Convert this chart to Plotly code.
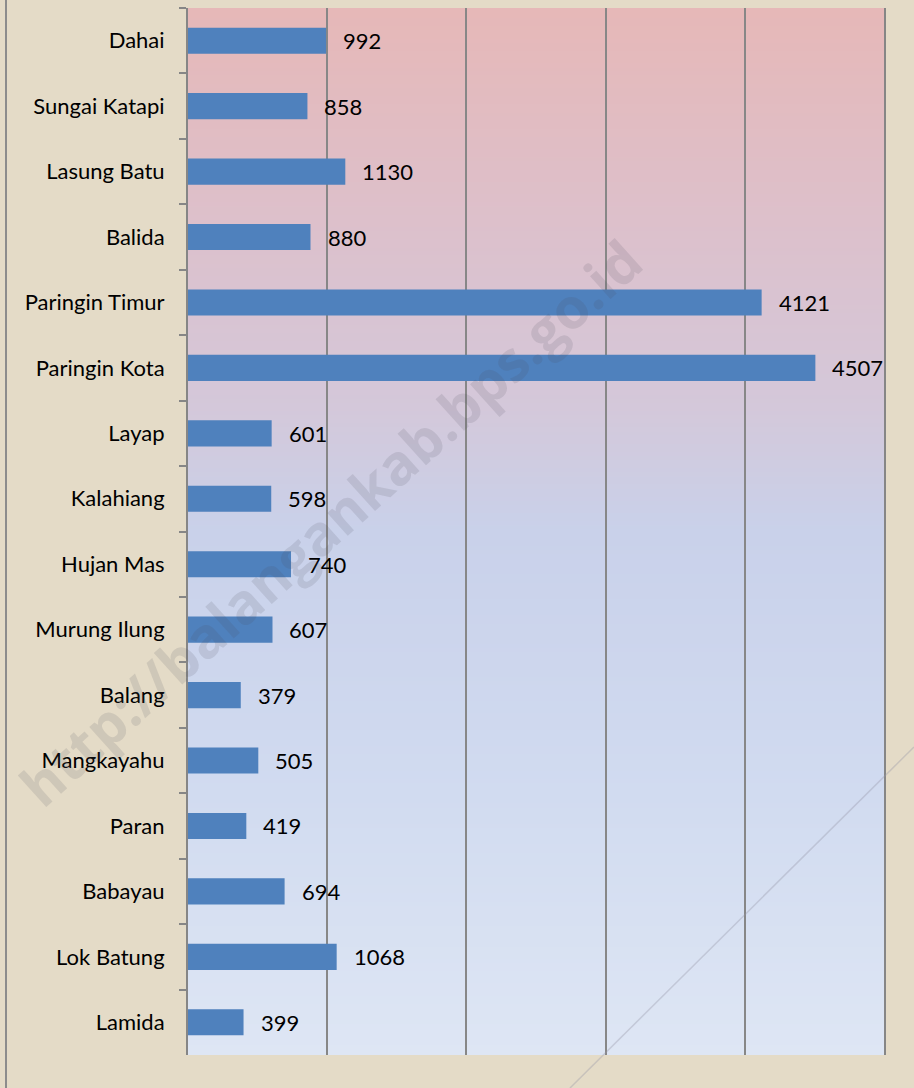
import base64
import struct
import zlib

import plotly.graph_objects as go

# ---- data ----
categories = [
    "Dahai", "Sungai Katapi", "Lasung Batu", "Balida", "Paringin Timur",
    "Paringin Kota", "Layap", "Kalahiang", "Hujan Mas", "Murung Ilung",
    "Balang", "Mangkayahu", "Paran", "Babayau", "Lok Batung", "Lamida",
]
values = [992, 858, 1130, 880, 4121, 4507, 601, 598, 740, 607, 379, 505, 419, 694, 1068, 399]
watermark = "http://balangankab.bps.go.id"


# ---- vertical gradient image for the plot area (style only) ----
def gradient_png(stops, height=256):
    rows = b""
    for i in range(height):
        t = i / (height - 1)
        for j in range(len(stops) - 1):
            t0, c0 = stops[j]
            t1, c1 = stops[j + 1]
            if t0 <= t <= t1:
                f = (t - t0) / (t1 - t0) if t1 > t0 else 0
                c = [round(c0[k] + (c1[k] - c0[k]) * f) for k in range(3)]
                break
        rows += b"\x00" + bytes(c)

    def chunk(tag, data):
        return (struct.pack(">I", len(data)) + tag + data
                + struct.pack(">I", zlib.crc32(tag + data) & 0xFFFFFFFF))

    png = b"\x89PNG\r\n\x1a\n"
    png += chunk(b"IHDR", struct.pack(">IIBBBBB", 1, height, 8, 2, 0, 0, 0))
    png += chunk(b"IDAT", zlib.compress(rows))
    png += chunk(b"IEND", b"")
    return "data:image/png;base64," + base64.b64encode(png).decode()


grad = gradient_png([
    (0.0, (230, 184, 184)),
    (0.2, (221, 192, 203)),
    (0.38, (212, 200, 218)),
    (0.5, (201, 209, 234)),
    (0.75, (209, 219, 240)),
    (1.0, (222, 230, 244)),
])

FONT = "Lato"

fig = go.Figure()
fig.add_trace(go.Bar(
    x=values,
    y=categories,
    orientation="h",
    width=0.4,
    marker=dict(color="#4F81BD", line=dict(width=0)),
    hoverinfo="x+y",
))

for c, v in zip(categories, values):
    fig.add_annotation(
        x=v, y=c, text=str(v), showarrow=False,
        xanchor="left", xshift=15,
        font=dict(family=FONT, size=22, color="#000000"),
    )

L, R, T, B = 188, 30, 8, 33
PW, PH = 914 - L - R, 1088 - T - B


def px_to_paper(px, py):
    return (px - L) / PW, 1 - (py - T) / PH


# watermark
wx, wy = px_to_paper(330, 522)
fig.add_annotation(
    x=wx, y=wy, xref="paper", yref="paper", xanchor="center", yanchor="middle",
    text="<b>" + watermark + "</b>", showarrow=False, textangle=-42,
    font=dict(family="Open Sans", size=56, color="rgba(80,80,90,0.14)"),
)

x0, y0 = px_to_paper(570, 1088)
x1, y1 = px_to_paper(914, 747)
fig.add_shape(type="line", xref="paper", yref="paper", x0=x0, y0=y0, x1=x1, y1=y1,
              line=dict(color="rgba(150,150,165,0.35)", width=1.5))
lx, _ = px_to_paper(6, 0)
fig.add_shape(type="line", xref="paper", yref="paper", x0=lx, x1=lx,
              y0=px_to_paper(0, 0)[1], y1=px_to_paper(0, 1088)[1],
              line=dict(color="#8c8c8c", width=2))

fig.add_layout_image(dict(
    source=grad, xref="paper", yref="paper", x=0, y=1, sizex=1, sizey=1,
    sizing="stretch", layer="below", xanchor="left", yanchor="top",
))

fig.update_layout(
    width=914, height=1088,
    margin=dict(l=L, r=R, t=T, b=B, pad=0),
    paper_bgcolor="#E4DBC7",
    plot_bgcolor="rgba(0,0,0,0)",
    showlegend=False,
    bargap=0.6,
    xaxis=dict(
        range=[0, 5000], dtick=1000, showticklabels=False, ticks="",
        showgrid=True, gridcolor="#878787", gridwidth=1.5,
        zeroline=False, showline=False, fixedrange=True,
    ),
    yaxis=dict(
        categoryorder="array", categoryarray=categories, autorange="reversed",
        showline=True, mirror=True, linecolor="#868686", linewidth=2,
        ticks="outside", ticklen=7, tickcolor="#868686", tickwidth=1.5,
        tickson="boundaries", ticklabelstandoff=17,
        showgrid=False, zeroline=False,
        tickfont=dict(family=FONT, size=22, color="#000000"),
    ),
)

fig.write_html(
    "out.html",
    config={"displayModeBar": False},
    post_script="document.body.style.margin='0';document.body.style.background='#E4DBC7';",
)
